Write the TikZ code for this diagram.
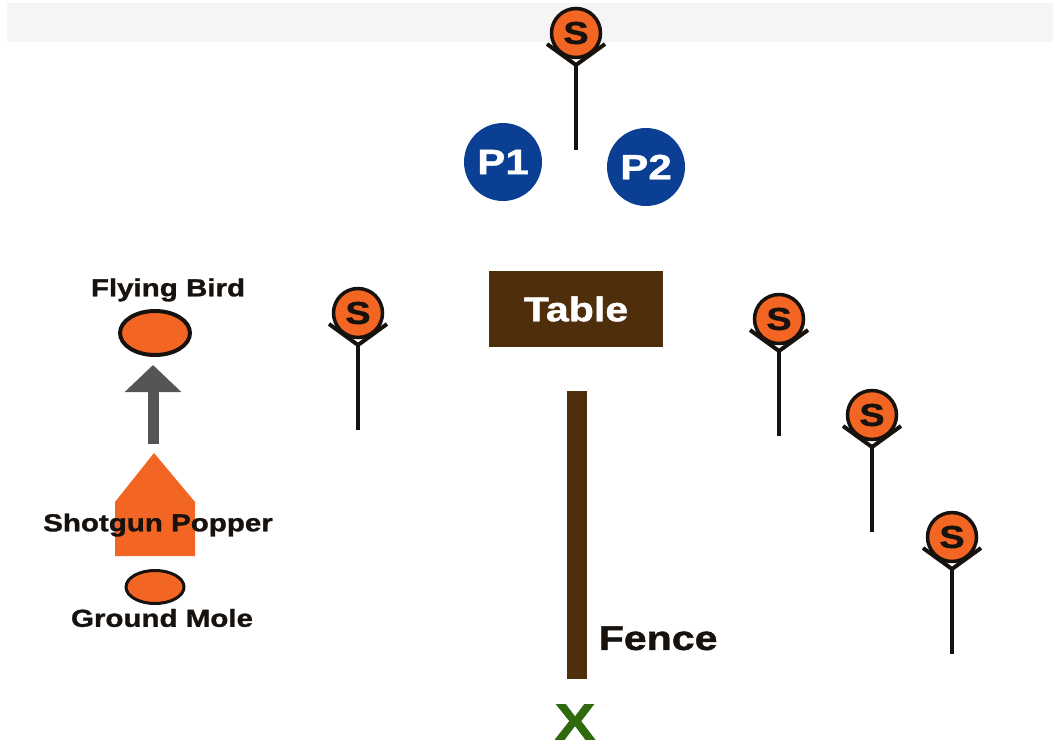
\documentclass[tikz,border=0pt]{standalone}
\usepackage{fontspec}
\setmainfont{Liberation Sans}[FakeStretch=1.2,BoldFeatures={FakeBold=1.2}]
\usetikzlibrary{arrows.meta,positioning,shapes.geometric}
\definecolor{brownfence}{HTML}{4F2E0B}
\definecolor{orangepop}{HTML}{F26522}
\definecolor{blueplayer}{HTML}{0B3F94}
\definecolor{greenx}{HTML}{2F6A0E}
\definecolor{greyarrow}{HTML}{555555}
\definecolor{inkblack}{HTML}{17120E}

\begin{document}
\begin{tikzpicture}[
  x=0.02cm,y=-0.02cm,
  target/.style={draw=inkblack,line width=0.07cm,fill=orangepop,circle,inner sep=0pt,minimum size=0.98cm,font=\bfseries\fontsize{18}{18}\selectfont,text=inkblack},
  stakeline/.style={draw=inkblack,line width=0.08cm},
  player/.style={circle,fill=blueplayer,inner sep=0pt,minimum size=1.56cm,text=white,font=\bfseries\fontsize{20}{20}\selectfont},
  legend/.style={font=\bfseries\fontsize{14}{14}\selectfont,text=inkblack,inner sep=0pt},
  critter/.style={ellipse,draw=inkblack,fill=orangepop,inner sep=0pt}
]
  \useasboundingbox (0,0) rectangle (1053,744);
  \fill[black!4] (7,3) rectangle (1053,42);

  % stakes
  \foreach \name/\x/\y/\bottom in {top/576/33/150,left/358/313/430,rightA/779/319/436,rightB/872/415/532,rightC/952/537/654}{
    \coordinate (end\name) at (\x,\bottom);
    \coordinate (apex\name) at (\x,\y+32);
    \draw[stakeline] (\x-29,\y+11) -- (apex\name) -- (\x+29,\y+11);
    \draw[stakeline] (apex\name) -- (end\name);
    \node[target] (s\name) at (\x,\y) {S};
  }

  \node[player] (pone) at (503,162) {P1};
  \node[player] (ptwo) at (646,167) {P2};

  \node[fill=brownfence,minimum width=3.48cm,minimum height=1.52cm,inner sep=0pt,text=white,font=\bfseries\fontsize{19.5}{19.5}\selectfont] (table) at (576,309) {\raisebox{-2pt}{Table}};
  \node[fill=brownfence,minimum width=0.4cm,minimum height=5.76cm,inner sep=0pt] (fence) at (577,535) {};
  \node[right=0.22cm of fence.south east,anchor=west,yshift=0.82cm,inner sep=0pt,font=\bfseries\fontsize{19.5}{19.5}\selectfont,text=inkblack] (fencelabel) {Fence};
  \node[inner sep=0pt,text=greenx,font=\bfseries\fontsize{29}{29}\selectfont] (xmark) at (575,722) {X};

  % legend
  \fill[orangepop] (115,556) -- (115,502) -- (154,453) -- (195,502) -- (195,556) -- cycle;
  \node[legend] (birdlabel) at (168,290) {Flying Bird};
  \node[critter,minimum width=1.4cm,minimum height=0.88cm,line width=0.08cm] (bird) at (155,333) {};
  \coordinate (arrowtail) at (153,444);
  \coordinate (arrowtip) at (153,365);
  \draw[greyarrow,line width=0.22cm,-{Triangle[length=0.54cm,width=1.1cm]}] (arrowtail) -- (arrowtip);
  \node[legend] (popper) at (158,525) {Shotgun Popper};
  \node[critter,minimum width=1.16cm,minimum height=0.66cm,line width=0.06cm] (mole) at (155,587) {};
  \node[legend] (molelabel) at (162,618) {Ground Mole};
\end{tikzpicture}
\end{document}
